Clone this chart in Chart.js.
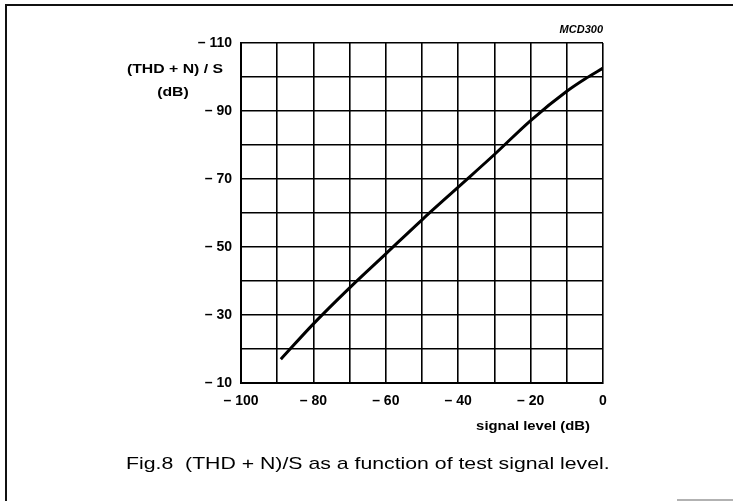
<!DOCTYPE html>
<html>
<head>
<meta charset="utf-8">
<script src="https://cdn.jsdelivr.net/npm/chart.js@4"></script>
<style>
  html, body { margin: 0; padding: 0; background: #fff; }
  #wrap { width: 733px; height: 501px; position: relative; }
</style>
</head>
<body>
<div id="wrap"><canvas id="thdChart" width="733" height="501"></canvas></div>
<script>
// signal level (dB) and (THD + N)/S (dB)
const signalLevel = [-89, -80, -70, -60, -50, -40, -30, -20, -10, -5, 0];
const thdPlusNoise = [-17, -27.4, -38, -48, -58, -67.6, -77.2, -87.2, -95.8, -99.4, -102.6];

const xLabelTicks = [-100, -80, -60, -40, -20, 0];
const yLabelTicks = [-110, -90, -70, -50, -30, -10];

const FONT = '"Liberation Sans", Arial, Helvetica, sans-serif';

function dbLabel(v) {
  return v === 0 ? '0' : '\u2013 ' + Math.abs(v);
}

// the scan is a bit stretched sideways, so loose texts get a horizontal scale
function wideText(ctx, text, x, y, sx) {
  ctx.save();
  ctx.translate(x, y);
  ctx.scale(sx, 1);
  ctx.fillText(text, 0, 0);
  ctx.restore();
}

// frame + loose texts of the figure
const figureText = {
  id: 'figureText',
  afterDraw(chart) {
    const ctx = chart.ctx;
    const area = chart.chartArea;
    ctx.save();
    // page frame
    ctx.strokeStyle = '#111';
    ctx.lineWidth = 2;
    ctx.beginPath();
    ctx.moveTo(6, 501);
    ctx.lineTo(6, 5);
    ctx.lineTo(733, 5);
    ctx.stroke();
    ctx.strokeStyle = '#999';
    ctx.lineWidth = 1.5;
    ctx.beginPath();
    ctx.moveTo(677, 500);
    ctx.lineTo(733, 500);
    ctx.stroke();

    ctx.fillStyle = '#000';
    ctx.textBaseline = 'middle';
    // y axis title
    ctx.font = 'bold 13.5px ' + FONT;
    ctx.textAlign = 'right';
    wideText(ctx, '(THD + N) / S', 223, 69, 1.17);
    ctx.textAlign = 'center';
    wideText(ctx, '(dB)', 173, 92, 1.17);
    // x axis title
    ctx.textAlign = 'right';
    wideText(ctx, 'signal level (dB)', 590, 426, 1.1);
    // figure code
    ctx.font = 'italic bold 10px ' + FONT;
    wideText(ctx, 'MCD300', area.right, 30, 1.1);
    // caption
    ctx.font = '17px ' + FONT;
    ctx.textAlign = 'left';
    wideText(ctx, 'Fig.8  (THD + N)/S as a function of test signal level.', 126, 464, 1.25);
    ctx.restore();
  }
};

new Chart(document.getElementById('thdChart'), {
  type: 'line',
  data: {
    datasets: [{
      data: signalLevel.map((x, i) => ({ x: x, y: thdPlusNoise[i] })),
      borderColor: '#000',
      borderWidth: 3,
      pointRadius: 0,
      cubicInterpolationMode: 'monotone',
      fill: false
    }]
  },
  options: {
    responsive: false,
    animation: false,
    layout: { padding: { top: 43, right: 130, left: 0, bottom: 0 } },
    plugins: {
      legend: { display: false },
      tooltip: { enabled: false },
      title: { display: false }
    },
    scales: {
      x: {
        type: 'linear',
        min: -100,
        max: 0,
        border: { color: '#000', width: 2 },
        grid: { color: '#000', lineWidth: 1.6, drawTicks: false },
        ticks: {
          stepSize: 10,
          padding: 10,
          color: '#000',
          font: { family: FONT, size: 14, weight: 'bold' },
          maxRotation: 0,
          autoSkip: false,
          callback: v => xLabelTicks.includes(v) ? dbLabel(v) : ''
        },
        afterFit(scale) { scale.height = 118; }
      },
      y: {
        type: 'linear',
        min: -110,
        max: -10,
        reverse: true,
        border: { color: '#000', width: 2 },
        grid: { color: '#000', lineWidth: 1.6, drawTicks: false },
        ticks: {
          stepSize: 10,
          padding: 9,
          color: '#000',
          font: { family: FONT, size: 14, weight: 'bold' },
          autoSkip: false,
          callback: v => yLabelTicks.includes(v) ? dbLabel(v) : ''
        },
        afterFit(scale) { scale.width = 241; }
      }
    }
  },
  plugins: [figureText]
});
</script>
</body>
</html>
